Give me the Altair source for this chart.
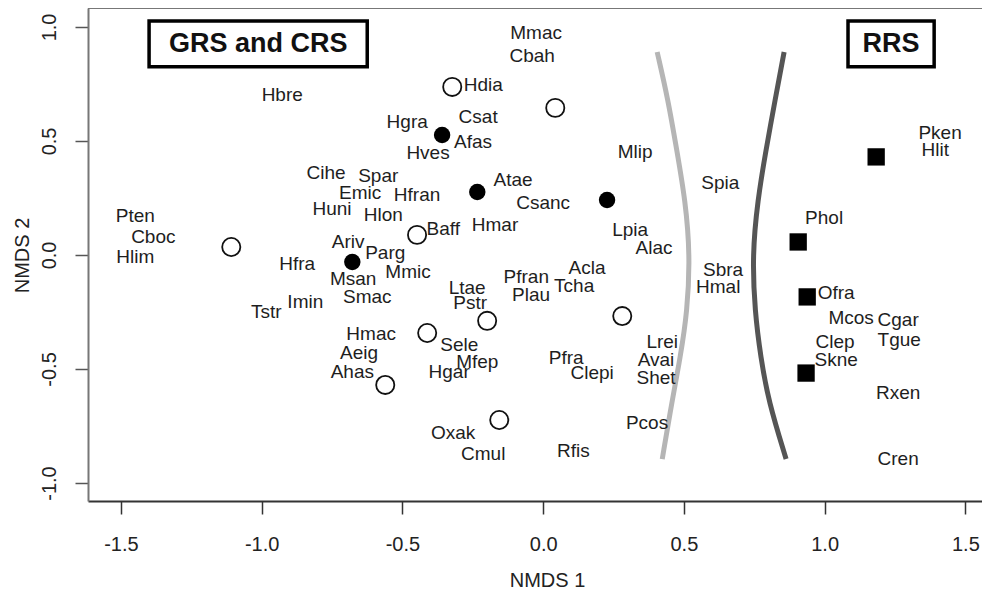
import altair as alt
import pandas as pd

# ---- data ----
filled_x = [-0.359, -0.234, 0.227, -0.678]
filled_y = [0.526, 0.276, 0.241, -0.031]

open_x = [-0.323, 0.043, -1.108, -0.448, -0.199, -0.412, 0.281, -0.561, -0.156]
open_y = [0.737, 0.645, 0.035, 0.088, -0.289, -0.342, -0.268, -0.570, -0.724]

square_x = [1.183, 0.906, 0.938, 0.934]
square_y = [0.430, 0.057, -0.184, -0.518]

species = ["Hbre", "Mmac", "Cbah", "Hdia", "Csat", "Hgra", "Afas", "Hves", "Mlip",
           "Cihe", "Spar", "Emic", "Hfran", "Huni", "Hlon", "Atae", "Csanc", "Hmar",
           "Baff", "Spia", "Pten", "Cboc", "Hlim", "Phol", "Lpia", "Alac", "Ariv",
           "Parg", "Hfra", "Mmic", "Msan", "Smac", "Imin", "Tstr", "Ltae", "Pstr",
           "Pfran", "Plau", "Acla", "Tcha", "Sbra", "Hmal", "Ofra", "Mcos", "Cgar",
           "Clep", "Tgue", "Skne", "Hmac", "Aeig", "Ahas", "Sele", "Mfep", "Hgar",
           "Pfra", "Clepi", "Lrei", "Avai", "Shet", "Pcos", "Oxak", "Cmul", "Rfis",
           "Rxen", "Cren", "Pken", "Hlit"]
species_x = [-0.927, -0.025, -0.039, -0.213, -0.231, -0.483, -0.249, -0.409, 0.327,
             -0.771, -0.586, -0.650, -0.448, -0.750, -0.568, -0.107, 0.000, -0.171,
             -0.355, 0.629, -1.449, -1.385, -1.449, 0.998, 0.309, 0.394, -0.693,
             -0.561, -0.874, -0.480, -0.675, -0.625, -0.845, -0.984, -0.270, -0.259,
             -0.060, -0.043, 0.156, 0.110, 0.639, 0.622, 1.041, 1.094, 1.261,
             1.037, 1.265, 1.041, -0.611, -0.654, -0.678, -0.298, -0.234, -0.334,
             0.082, 0.174, 0.423, 0.401, 0.401, 0.369, -0.320, -0.213, 0.107,
             1.261, 1.261, 1.410, 1.393]
species_y = [0.702, 0.974, 0.873, 0.746, 0.605, 0.583, 0.496, 0.447, 0.452,
             0.360, 0.346, 0.272, 0.263, 0.202, 0.175, 0.329, 0.228, 0.132,
             0.114, 0.316, 0.171, 0.079, -0.009, 0.162, 0.110, 0.031, 0.057,
             0.009, -0.039, -0.075, -0.105, -0.184, -0.206, -0.250, -0.145, -0.211,
             -0.096, -0.175, -0.057, -0.136, -0.066, -0.140, -0.167, -0.276, -0.285,
             -0.382, -0.373, -0.461, -0.346, -0.430, -0.513, -0.395, -0.469, -0.513,
             -0.452, -0.518, -0.382, -0.461, -0.539, -0.737, -0.781, -0.873, -0.860,
             -0.605, -0.895, 0.535, 0.461]

# boundary curves (x read at several heights)
light_curve_x = [0.405, 0.444, 0.476, 0.505, 0.522, 0.512, 0.487, 0.458, 0.423]
light_curve_y = [0.890, 0.680, 0.450, 0.240, 0.000, -0.250, -0.450, -0.640, -0.895]
dark_curve_x = [0.856, 0.824, 0.790, 0.762, 0.743, 0.752, 0.773, 0.800, 0.863]
dark_curve_y = [0.890, 0.680, 0.450, 0.240, 0.000, -0.250, -0.450, -0.640, -0.895]

group_labels = ["GRS and CRS", "RRS"]
group_x1 = [-1.400, 1.083]
group_x2 = [-0.625, 1.389]
group_y1 = [0.825, 0.825]
group_y2 = [1.026, 1.026]

x_ticks = [-1.5, -1.0, -0.5, 0.0, 0.5, 1.0, 1.5]
y_ticks = [-1.0, -0.5, 0.0, 0.5, 1.0]
x_domain = [-1.617, 1.559]
y_domain = [-1.079, 1.083]

FONT = "Liberation Sans"

# ---- tables ----
df_filled = pd.DataFrame({"x": filled_x, "y": filled_y})
df_open = pd.DataFrame({"x": open_x, "y": open_y})
df_sq = pd.DataFrame({"x": square_x, "y": square_y})
df_sp = pd.DataFrame({"name": species, "x": species_x, "y": species_y})
df_light = pd.DataFrame({"x": light_curve_x, "y": light_curve_y, "o": range(len(light_curve_x))})
df_dark = pd.DataFrame({"x": dark_curve_x, "y": dark_curve_y, "o": range(len(dark_curve_x))})
df_grp = pd.DataFrame({"label": group_labels, "x1": group_x1, "x2": group_x2,
                       "y1": group_y1, "y2": group_y2,
                       "xc": [(a + b) / 2 for a, b in zip(group_x1, group_x2)],
                       "yc": [(a + b) / 2 for a, b in zip(group_y1, group_y2)]})
df_top = pd.DataFrame({"y": [y_domain[1]]})

xs = alt.Scale(domain=x_domain, nice=False, zero=False)
ys = alt.Scale(domain=y_domain, nice=False, zero=False)

LABEL_EXPR = "datum.value < 0 ? '-' + format(-datum.value, '.1f') : format(datum.value, '.1f')"

x_axis = alt.Axis(values=x_ticks, labelExpr=LABEL_EXPR, grid=False, tickSize=13, tickWidth=1.5,
                  tickColor="#333", domainColor="#333", domainWidth=2,
                  labelFontSize=20, labelFont=FONT, labelColor="#222", labelPadding=20,
                  labelFlush=False,
                  title="NMDS 1", titleFontSize=20, titleFont=FONT, titleFontWeight="normal",
                  titleColor="#222", titleX=459, titleY=79, titleBaseline="middle",
                  titleAlign="center")
y_axis = alt.Axis(values=y_ticks, labelExpr=LABEL_EXPR, grid=False, tickSize=13, tickWidth=1.5,
                  tickColor="#555", domainColor="#777", domainWidth=2,
                  labelFontSize=20, labelFont=FONT, labelColor="#222", labelPadding=20,
                  labelAngle=270, labelAlign="center", labelBaseline="alphabetic",
                  labelFlush=False,
                  title="NMDS 2", titleFontSize=20, titleFont=FONT, titleFontWeight="normal",
                  titleColor="#222", titleAngle=270, titleX=-66, titleY=247,
                  titleBaseline="middle", titleAlign="center")

X = alt.X("x:Q", scale=xs, axis=x_axis)
Y = alt.Y("y:Q", scale=ys, axis=y_axis)

top_line = alt.Chart(df_top).mark_rule(color="#777", strokeWidth=2).encode(
    y=alt.Y("y:Q", scale=ys))

light = alt.Chart(df_light).mark_line(color="#b5b5b5", strokeWidth=5,
                                      interpolate="basis", strokeCap="butt").encode(
    x=alt.X("x:Q", scale=xs), y=alt.Y("y:Q", scale=ys), order="o:Q")
dark = alt.Chart(df_dark).mark_line(color="#555555", strokeWidth=5,
                                    interpolate="basis", strokeCap="butt").encode(
    x=alt.X("x:Q", scale=xs), y=alt.Y("y:Q", scale=ys), order="o:Q")

filled = alt.Chart(df_filled).mark_point(shape="circle", filled=True, size=270,
                                         color="#000", opacity=1).encode(x=X, y=Y)
opened = alt.Chart(df_open).mark_point(shape="circle", filled=False, size=330,
                                       color="#111", strokeWidth=1.8, opacity=1).encode(
    x=alt.X("x:Q", scale=xs), y=alt.Y("y:Q", scale=ys))
squares = alt.Chart(df_sq).mark_point(shape="square", filled=True, size=300,
                                      color="#000", opacity=1).encode(
    x=alt.X("x:Q", scale=xs), y=alt.Y("y:Q", scale=ys))

labels = alt.Chart(df_sp).mark_text(font=FONT, fontSize=19, color="#1e1e1e",
                                    align="center", baseline="middle").encode(
    x=alt.X("x:Q", scale=xs), y=alt.Y("y:Q", scale=ys), text="name:N")

boxes = alt.Chart(df_grp).mark_rect(fill="white", stroke="#000", strokeWidth=3.5).encode(
    x=alt.X("x1:Q", scale=xs), x2="x2:Q", y=alt.Y("y1:Q", scale=ys), y2="y2:Q")
box_text = alt.Chart(df_grp).mark_text(font=FONT, fontSize=27, fontWeight="bold",
                                       color="#111", align="center", baseline="middle").encode(
    x=alt.X("xc:Q", scale=xs), y=alt.Y("yc:Q", scale=ys), text="label:N")

chart = alt.layer(filled, top_line, light, dark, opened, squares, labels, boxes, box_text).properties(
    width=894, height=493,
    autosize=alt.AutoSizeParams(type="none"),
    padding={"left": 80, "top": 0, "right": 0, "bottom": 94},
    background="white",
).configure_view(stroke=None)

chart.save("out.html", embed_options={"renderer": "svg", "actions": False})
